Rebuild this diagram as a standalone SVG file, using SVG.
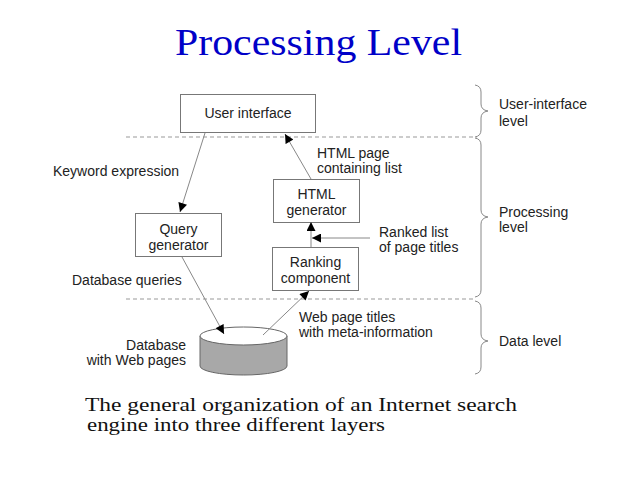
<svg xmlns="http://www.w3.org/2000/svg" width="638" height="479" viewBox="0 0 638 479">
<defs>
<style>
.t{font-family:"Liberation Sans",Arial,sans-serif;font-size:14px;fill:#222}
.box{fill:#fff;stroke:#777;stroke-width:1}
.dash{stroke:#999;stroke-width:1;stroke-dasharray:4 3;fill:none}
.ln{stroke:#888;stroke-width:1;fill:none;marker-end:url(#ah)}
.br{stroke:#888;stroke-width:1;fill:none}
.cap{font-family:"Liberation Serif","Times New Roman",serif;font-size:19px;fill:#111}
</style>
<marker id="ah" viewBox="0 0 10 10" refX="10" refY="5" markerWidth="10" markerHeight="9" markerUnits="userSpaceOnUse" orient="auto">
<path d="M0,0 L10,5 L0,10 z" fill="#000"/>
</marker>
</defs>
<rect width="638" height="479" fill="#fff"/>
<text x="175" y="55" font-family="'Liberation Serif','Times New Roman',serif" font-size="38" fill="#0000c8" textLength="287" lengthAdjust="spacingAndGlyphs">Processing Level</text>

<g id="separators">
<line class="dash" x1="126" y1="137" x2="477" y2="137"/>
<line class="dash" x1="126" y1="299" x2="473" y2="299"/>
</g>

<g id="user-interface">
<rect class="box" x="180.500" y="94.500" width="135" height="38"/>
<text class="t" x="248" y="118" text-anchor="middle">User interface</text>
</g>
<g id="query-generator">
<rect class="box" x="135.500" y="213.500" width="86" height="43"/>
<text class="t" x="178.500" y="234" text-anchor="middle">Query</text>
<text class="t" x="178.500" y="250" text-anchor="middle">generator</text>
</g>
<g id="html-generator">
<rect class="box" x="273.500" y="179.500" width="86" height="43"/>
<text class="t" x="316.500" y="199" text-anchor="middle">HTML</text>
<text class="t" x="316.500" y="215" text-anchor="middle">generator</text>
</g>
<g id="ranking-component">
<rect class="box" x="272.500" y="247.500" width="86" height="43"/>
<text class="t" x="315.500" y="267" text-anchor="middle">Ranking</text>
<text class="t" x="315.500" y="283" text-anchor="middle">component</text>
</g>
<g id="database">
<path d="M200,336 L200,366 A43.500,9 0 0 0 287,366 L287,336" fill="#a8a8a8" stroke="#666"/>
<ellipse cx="243.500" cy="336" rx="43.500" ry="9" fill="#fff" stroke="#666"/>
<text class="t" x="186" y="350" text-anchor="end">Database</text>
<text class="t" x="186" y="365" text-anchor="end">with Web pages</text>
</g>

<g id="connectors">
<line class="ln" x1="205" y1="133" x2="180" y2="212"/>
<line class="ln" x1="182" y1="257" x2="224" y2="334"/>
<line class="ln" x1="263" y1="335" x2="309" y2="291"/>
<line class="ln" x1="311" y1="179" x2="285" y2="134"/>
<line class="ln" x1="311" y1="247" x2="311" y2="222"/>
<line class="ln" x1="370" y1="238" x2="312" y2="238"/>
</g>

<g id="labels">
<text class="t" x="53" y="176">Keyword expression</text>
<text class="t" x="72" y="285">Database queries</text>
<text class="t" x="317" y="158">HTML page</text>
<text class="t" x="317" y="173">containing list</text>
<text class="t" x="379" y="237">Ranked list</text>
<text class="t" x="379" y="252">of page titles</text>
<text class="t" x="299" y="322">Web page titles</text>
<text class="t" x="299" y="337">with meta-information</text>
</g>

<g id="levels">
<path class="br" d="M475,85 Q481,86 481,92 L481,104 Q481,110 488,111 Q481,112 481,118 L481,130 Q481,136 475,137"/>
<path class="br" d="M475,138 Q481,139 481,145 L481,210 Q481,216 488,217 Q481,218 481,224 L481,290 Q481,296 475,297"/>
<path class="br" d="M475,301 Q481,302 481,308 L481,334 Q481,340 488,341 Q481,342 481,348 L481,367 Q481,373 475,374"/>
<text class="t" x="499" y="109">User-interface</text>
<text class="t" x="499" y="126">level</text>
<text class="t" x="499" y="217">Processing</text>
<text class="t" x="499" y="232">level</text>
<text class="t" x="499" y="346">Data level</text>
</g>

<text class="cap" x="85" y="411" textLength="432" lengthAdjust="spacingAndGlyphs">The general organization of an Internet search</text>
<text class="cap" x="87" y="431" textLength="298" lengthAdjust="spacingAndGlyphs">engine into three different layers</text>
</svg>
